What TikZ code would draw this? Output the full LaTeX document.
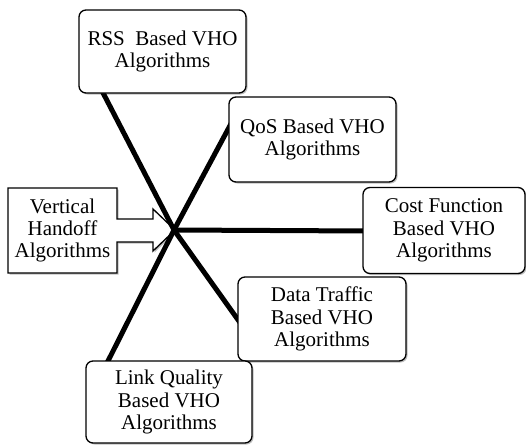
\documentclass[tikz,border=0pt]{standalone}
\usepackage{fontspec}
\setmainfont{Liberation Serif}
\usetikzlibrary{shadows}
\begin{document}
\begin{tikzpicture}[x=1pt,y=-1pt,
  vhobox/.style={draw=black, line width=1.3pt, rounded corners=7pt, fill=white,
    inner sep=0pt, align=center,
    drop shadow={shadow xshift=1.5pt, shadow yshift=-1.5pt, fill=black, opacity=0.25},
    font=\fontsize{21}{22.3}\selectfont},
  spoke/.style={line width=5pt, black}]
\useasboundingbox (0,0) rectangle (526,444);
% callout
\draw[line width=1.3pt, fill=white, drop shadow={shadow xshift=1.5pt, shadow yshift=-1.5pt, fill=black, opacity=0.25}]
  (8,188) -- (117,188) -- (117,219) -- (153,219) -- (153,209) -- (175,230) -- (153,251)
  -- (153,242) -- (117,242) -- (117,273) -- (8,273) -- cycle;
\node[align=center, inner sep=0pt, font=\fontsize{21}{22.3}\selectfont] (vh) at (62.5,230.5) {Vertical\\Handoff\\Algorithms};
% hub and spoke ends
\coordinate (c) at (174,230);
\coordinate (e1) at (100,87);
\coordinate (e2) at (233,120);
\coordinate (e3) at (368,231);
\coordinate (e4) at (241,324);
\coordinate (e5) at (105,367);
\draw[spoke] (c) -- (e1);
\draw[spoke] (c) -- (e2);
\draw[spoke] (c) -- (e3);
\draw[spoke] (c) -- (e4);
\draw[spoke] (c) -- (e5);
% boxes
\node[vhobox, minimum width=167pt, minimum height=83pt] (rss) at (162.5,51.5) {RSS\ \ Based VHO\\Algorithms};
\node[vhobox, minimum width=167pt, minimum height=85pt] (qos) at (312.5,139.5) {QoS Based VHO\\Algorithms};
\node[vhobox, minimum width=162pt, minimum height=86pt] (cost) at (444,230.5) {Cost Function\\Based VHO\\Algorithms};
\node[vhobox, minimum width=168pt, minimum height=84pt] (data) at (322,319) {Data Traffic\\Based VHO\\Algorithms};
\node[vhobox, minimum width=166pt, minimum height=82pt] (link) at (169,402) {Link Quality\\Based VHO\\Algorithms};
\end{tikzpicture}
\end{document}
